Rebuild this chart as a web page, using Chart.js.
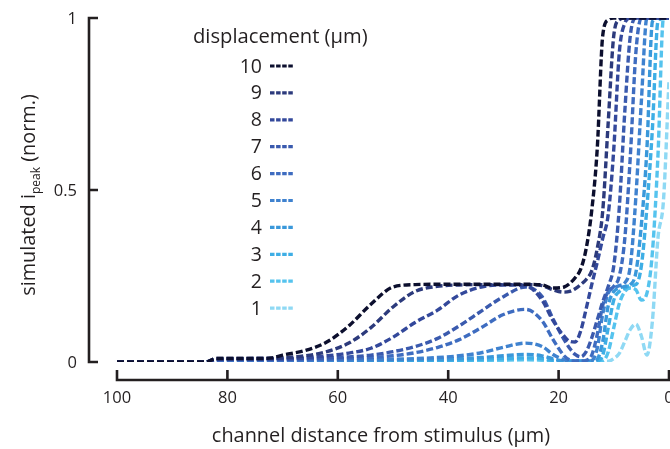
<!DOCTYPE html>
<html>
<head>
<meta charset="utf-8">
<script src="https://cdn.jsdelivr.net/npm/chart.js@4.4.0/dist/chart.umd.min.js"></script>
<style>
  html, body { margin: 0; padding: 0; background: #fff; }
  #wrap { width: 670px; height: 449px; }
</style>
</head>
<body>
<div id="wrap"><canvas id="chart"></canvas></div>
<script>
// channel distance from stimulus (um), shared by every curve
const distance = [100, 84, 82, 74, 72, 70, 66, 62, 58, 54, 50, 46, 42, 38, 34, 30, 26, 23, 21, 19,
  18, 17, 16, 15, 14, 13, 12, 11, 10, 9, 8, 7, 6, 5, 4, 3, 2, 1, 0];

// simulated i_peak (norm.) per displacement
const disp10 = [0, 0, 0.01, 0.01, 0.012, 0.02, 0.033, 0.058, 0.105, 0.168, 0.218, 0.225, 0.226, 0.226, 0.226, 0.226, 0.226, 0.224, 0.215, 0.218,
  0.228, 0.245, 0.27, 0.33, 0.44, 0.62, 0.95, 0.995, 1, 1, 1, 1, 1, 1, 1, 1, 1, 1, 1];
const disp9 = [0, 0, 0.01, 0.01, 0.01, 0.012, 0.018, 0.03, 0.055, 0.1, 0.16, 0.205, 0.22, 0.224, 0.225, 0.225, 0.225, 0.222, 0.21, 0.203,
  0.205, 0.213, 0.225, 0.24, 0.265, 0.33, 0.44, 0.7, 0.95, 0.995, 1, 1, 1, 1, 1, 1, 1, 1, 1];
const disp8 = [0, 0, 0.008, 0.01, 0.01, 0.01, 0.012, 0.018, 0.026, 0.04, 0.072, 0.115, 0.15, 0.195, 0.218, 0.224, 0.222, 0.18, 0.12, 0.075,
  0.06, 0.058, 0.09, 0.155, 0.225, 0.29, 0.36, 0.43, 0.62, 0.9, 0.985, 1, 1, 1, 1, 1, 1, 1, 1];
const disp7 = [0, 0, 0.006, 0.008, 0.008, 0.008, 0.01, 0.012, 0.015, 0.02, 0.03, 0.045, 0.068, 0.105, 0.148, 0.19, 0.218, 0.19, 0.125, 0.065,
  0.04, 0.022, 0.015, 0.03, 0.07, 0.122, 0.175, 0.22, 0.28, 0.45, 0.73, 0.95, 1, 1, 1, 1, 1, 1, 1];
const disp6 = [0, 0, 0.005, 0.006, 0.006, 0.006, 0.007, 0.008, 0.01, 0.013, 0.018, 0.027, 0.042, 0.065, 0.1, 0.138, 0.153, 0.12, 0.065, 0.018,
  0.006, 0.003, 0.003, 0.005, 0.02, 0.08, 0.165, 0.205, 0.22, 0.25, 0.36, 0.6, 0.9, 1, 1, 1, 1, 1, 1];
const disp5 = [0, 0, 0.004, 0.005, 0.005, 0.005, 0.005, 0.006, 0.006, 0.007, 0.008, 0.01, 0.013, 0.018, 0.027, 0.043, 0.055, 0.045, 0.022, 0.006,
  0.003, 0.002, 0.002, 0.002, 0.004, 0.04, 0.14, 0.2, 0.215, 0.222, 0.23, 0.28, 0.48, 0.76, 1, 1, 1, 1, 1];
const disp4 = [0, 0, 0.004, 0.004, 0.004, 0.004, 0.004, 0.004, 0.005, 0.005, 0.006, 0.007, 0.008, 0.01, 0.013, 0.018, 0.022, 0.018, 0.009, 0.003,
  0.002, 0.002, 0.002, 0.002, 0.002, 0.008, 0.06, 0.165, 0.205, 0.215, 0.22, 0.225, 0.26, 0.4, 0.62, 0.99, 1, 1, 1];
const disp3 = [0, 0, 0.003, 0.003, 0.003, 0.003, 0.003, 0.003, 0.004, 0.004, 0.004, 0.005, 0.005, 0.006, 0.008, 0.01, 0.012, 0.01, 0.005, 0.002,
  0.002, 0.002, 0.002, 0.002, 0.002, 0.003, 0.02, 0.1, 0.18, 0.205, 0.215, 0.222, 0.225, 0.28, 0.45, 0.68, 0.99, 1, 1];
const disp2 = [0, 0, 0.002, 0.002, 0.002, 0.002, 0.002, 0.002, 0.003, 0.003, 0.003, 0.003, 0.004, 0.004, 0.005, 0.006, 0.008, 0.006, 0.003, 0.002,
  0.002, 0.002, 0.002, 0.002, 0.002, 0.002, 0.003, 0.03, 0.1, 0.17, 0.205, 0.215, 0.21, 0.18, 0.2, 0.32, 0.6, 1, 1];
const disp1 = [0, 0, 0.002, 0.002, 0.002, 0.002, 0.002, 0.002, 0.002, 0.002, 0.002, 0.003, 0.003, 0.003, 0.004, 0.005, 0.006, 0.005, 0.003, 0.002,
  0.002, 0.002, 0.002, 0.002, 0.002, 0.002, 0.002, 0.002, 0.01, 0.025, 0.06, 0.095, 0.11, 0.075, 0.02, 0.12, 0.36, 0.47, 0.82];

const seriesLabels = ['10', '9', '8', '7', '6', '5', '4', '3', '2', '1'];
const seriesValues = [disp10, disp9, disp8, disp7, disp6, disp5, disp4, disp3, disp2, disp1];
const seriesColors = ['#0c0f2e', '#2c3a7c', '#33489b', '#3a5aae', '#3e6cc0',
  '#3f82cf', '#3a98da', '#3eaee5', '#55c3ee', '#8fd9f4'];

const xTicks = [100, 80, 60, 40, 20, 0];
const yTicks = [0, 0.5, 1];
const yTickLabels = ['0', '0.5', '1'];

const ink = '#231f20';
const fontFamily = '"Open Sans", "Noto Sans", sans-serif';

// detached axes, titles and the legend block, all placed off the chart scales
const paperPlugin = {
  id: 'paperLayout',
  afterDraw(chart) {
    const ctx = chart.ctx;
    const x = chart.scales.x;
    const y = chart.scales.y;
    ctx.save();
    ctx.strokeStyle = ink;
    ctx.fillStyle = ink;
    ctx.lineWidth = 2.6;
    ctx.setLineDash([]);

    // y axis
    const yAxisX = 89;
    ctx.beginPath();
    ctx.moveTo(yAxisX, y.getPixelForValue(1) - 1.3);
    ctx.lineTo(yAxisX, y.getPixelForValue(0) + 1.3);
    yTicks.forEach(v => {
      const py = y.getPixelForValue(v);
      ctx.moveTo(yAxisX, py);
      ctx.lineTo(yAxisX + 9, py);
    });
    ctx.stroke();

    ctx.font = '16.5px ' + fontFamily;
    ctx.textAlign = 'right';
    ctx.textBaseline = 'middle';
    yTicks.forEach((v, i) => {
      ctx.fillText(yTickLabels[i], 77, y.getPixelForValue(v) + 1);
    });

    // x axis
    const xAxisY = 380;
    ctx.beginPath();
    ctx.moveTo(x.getPixelForValue(100) - 1.3, xAxisY);
    ctx.lineTo(x.getPixelForValue(0) + 1.3, xAxisY);
    xTicks.forEach(v => {
      const px = x.getPixelForValue(v);
      ctx.moveTo(px, xAxisY);
      ctx.lineTo(px, xAxisY - 10);
    });
    ctx.stroke();

    ctx.textAlign = 'center';
    ctx.textBaseline = 'alphabetic';
    xTicks.forEach(v => {
      ctx.fillText(String(v), x.getPixelForValue(v), 403);
    });

    // axis titles
    ctx.font = '19.9px ' + fontFamily;
    ctx.fillText('channel distance from stimulus (\u00b5m)', 381, 442);

    ctx.save();
    ctx.translate(35, 195);
    ctx.rotate(-Math.PI / 2);
    const bigFont = '19.9px ' + fontFamily;
    const subFont = '12px ' + fontFamily;
    const parts = [
      { t: 'simulated i', f: bigFont, dy: 0 },
      { t: 'peak', f: subFont, dy: 5 },
      { t: ' (norm.)', f: bigFont, dy: 0 }
    ];
    let total = 0;
    parts.forEach(p => { ctx.font = p.f; p.w = ctx.measureText(p.t).width; total += p.w; });
    let cx = -total / 2;
    ctx.textAlign = 'left';
    parts.forEach(p => {
      ctx.font = p.f;
      ctx.fillText(p.t, cx, p.dy);
      cx += p.w;
    });
    ctx.restore();

    // legend
    ctx.font = '20.2px ' + fontFamily;
    ctx.textAlign = 'left';
    ctx.fillText('displacement (\u00b5m)', 193, 43);
    ctx.font = '19.5px ' + fontFamily;
    ctx.textAlign = 'right';
    ctx.textBaseline = 'middle';
    chart.data.datasets.forEach((ds, i) => {
      const rowY = 66 + i * 26.9;
      ctx.fillStyle = ink;
      ctx.fillText(ds.label, 262, rowY + 1);
      ctx.strokeStyle = ds.borderColor;
      ctx.lineWidth = 3.2;
      ctx.setLineDash([4.5, 1.6]);
      ctx.beginPath();
      ctx.moveTo(270, rowY);
      ctx.lineTo(294, rowY);
      ctx.stroke();
    });
    ctx.restore();
  }
};

const datasets = seriesLabels.map((label, i) => ({
  label: label,
  data: distance.map((d, j) => ({ x: d, y: seriesValues[i][j] })),
  borderColor: seriesColors[i],
  borderWidth: 3.4,
  borderDash: [7, 3],
  fill: false,
  pointRadius: 0,
  cubicInterpolationMode: 'monotone'
}));

new Chart(document.getElementById('chart'), {
  type: 'line',
  data: { datasets: datasets },
  options: {
    responsive: true,
    maintainAspectRatio: false,
    animation: false,
    layout: { padding: { left: 117, right: 1, top: 18, bottom: 87 } },
    scales: {
      x: { type: 'linear', min: 0, max: 100, reverse: true, display: false },
      y: { type: 'linear', min: 0, max: 1, display: false }
    },
    plugins: {
      legend: { display: false },
      tooltip: { enabled: false }
    }
  },
  plugins: [paperPlugin]
});
</script>
</body>
</html>
